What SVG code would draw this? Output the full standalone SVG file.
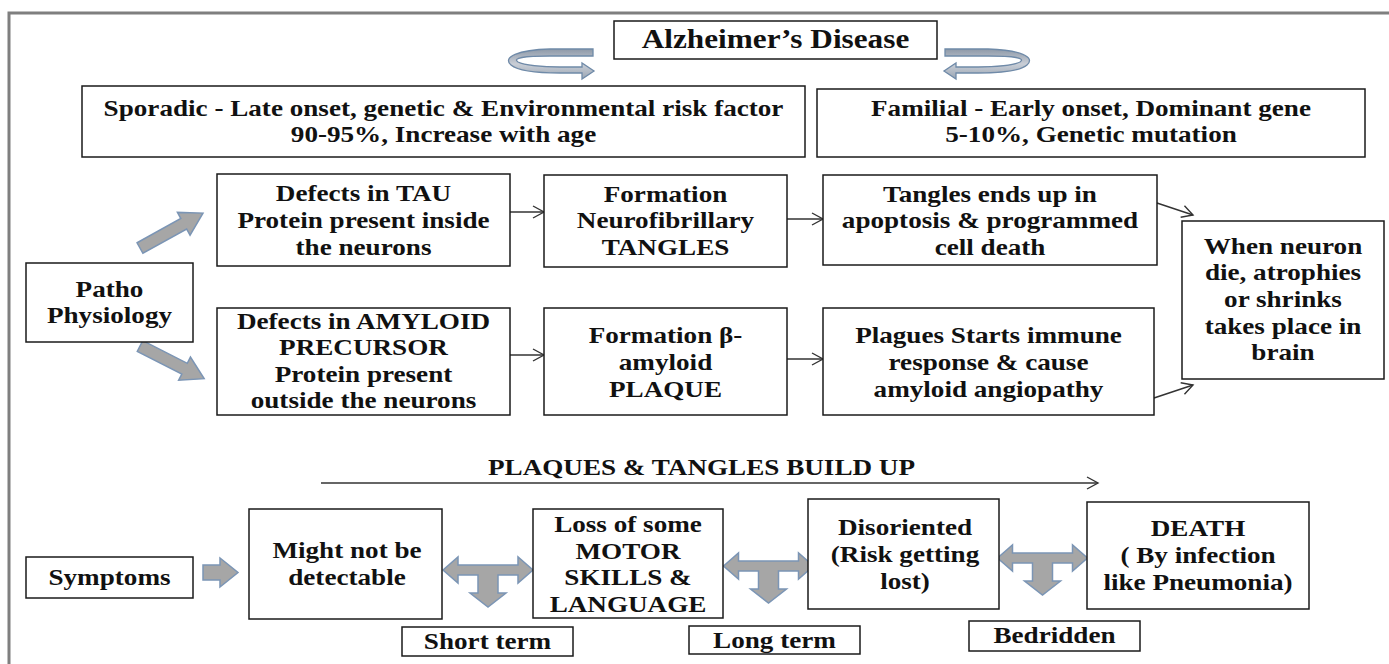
<svg xmlns="http://www.w3.org/2000/svg" xmlns:xlink="http://www.w3.org/1999/xlink" width="1389" height="664" viewBox="0 0 1389 664">
<defs>
<style>
.box{fill:#fff;stroke:#1a1a1a;stroke-width:1.5}
.t{font-family:"Liberation Serif","Times New Roman",serif;font-weight:bold;font-size:23px;fill:#111;text-anchor:middle}
.blk{fill:#a6a6a6;stroke:#7b95b5;stroke-width:1.5;stroke-linejoin:miter}
.ln{stroke:#333;stroke-width:1.4;fill:none;marker-end:url(#oa)}
.curl{fill:url(#cg);stroke:#6f8aa8;stroke-width:1.3}
</style>
<marker id="oa" markerUnits="userSpaceOnUse" markerWidth="14" markerHeight="14" refX="12" refY="7" orient="auto">
<path d="M1,1 L12,7 L1,13" fill="none" stroke="#333" stroke-width="1.4"/>
</marker>
<linearGradient id="cg" x1="0" y1="0" x2="0" y2="1">
<stop offset="0" stop-color="#8e99a8"/>
<stop offset="0.5" stop-color="#c9ced6"/>
<stop offset="1" stop-color="#9aa5b3"/>
</linearGradient>
<path id="tarrow" d="M-45,0 L-30,-13 L-30,-5 L30,-5 L30,-13 L45,0 L30,13 L30,5 L10,5 L10,23 L18,23 L0,37 L-18,23 L-10,23 L-10,5 L-30,5 L-30,13 Z"/>
<path id="darrow" d="M0,-6 L50,-6 L50,-13 L72,0 L50,13 L50,6 L0,6 Z"/>
<path id="curlp" d="M593,49 L550,49 C518,50 502,57 511,65 C518,71 538,73 560,73 L582,73 L582,79 L594,71 L582,63 L582,67 L560,67 C542,67 524,65 518,62 C512,58 524,56 550,56 L593,56 Z"/>
</defs>

<path d="M9,664 L9,13 L1389,13" fill="none" stroke="#7f7f7f" stroke-width="3"/>

<g id="connectors">
<use xlink:href="#curlp" class="curl"/>
<use xlink:href="#curlp" class="curl" transform="translate(1538 0) scale(-1 1)"/>
<use xlink:href="#darrow" class="blk" transform="translate(140 248) rotate(-29)"/>
<use xlink:href="#darrow" class="blk" transform="translate(140 346) rotate(27)"/>
<line class="ln" x1="510" y1="212" x2="544" y2="212"/>
<line class="ln" x1="510" y1="355" x2="544" y2="355"/>
<line class="ln" x1="787" y1="219" x2="823" y2="219"/>
<line class="ln" x1="787" y1="359" x2="823" y2="359"/>
<line class="ln" x1="1157" y1="203" x2="1193" y2="215"/>
<line class="ln" x1="1154" y1="398" x2="1193" y2="385"/>
<line class="ln" x1="321" y1="483" x2="1098" y2="483"/>
<path class="blk" d="M203,565 L220,565 L220,558 L238,572.5 L220,587 L220,580 L203,580 Z"/>
<use xlink:href="#tarrow" class="blk" transform="translate(488 570)"/>
<use xlink:href="#tarrow" class="blk" transform="translate(768.5 566)"/>
<use xlink:href="#tarrow" class="blk" transform="translate(1042.5 558)"/>
</g>

<g id="title">
<rect class="box" x="614" y="21" width="323" height="38"/>
<g transform="translate(775.5 0) scale(1.18 1)"><text class="t" style="font-size:26.5px" x="0" y="48">Alzheimer’s Disease</text></g>
</g>

<g id="sporadic">
<rect class="box" x="82" y="86" width="723" height="71"/>
<g transform="translate(443.5 0) scale(1.18 1)"><text class="t"><tspan x="0" y="116">Sporadic - Late onset, genetic &amp; Environmental risk factor</tspan><tspan x="0" y="142">90-95%, Increase with age</tspan></text></g>
</g>

<g id="familial">
<rect class="box" x="817" y="89" width="548" height="68"/>
<g transform="translate(1091 0) scale(1.18 1)"><text class="t"><tspan x="0" y="116">Familial - Early onset, Dominant gene</tspan><tspan x="0" y="142">5-10%, Genetic mutation</tspan></text></g>
</g>

<g id="patho">
<rect class="box" x="26" y="263" width="167" height="79"/>
<g transform="translate(109.5 0) scale(1.18 1)"><text class="t"><tspan x="0" y="297">Patho</tspan><tspan x="0" y="323">Physiology</tspan></text></g>
</g>

<g id="tau">
<rect class="box" x="217" y="174" width="293" height="92"/>
<g transform="translate(363.5 0) scale(1.18 1)"><text class="t"><tspan x="0" y="201">Defects in TAU</tspan><tspan x="0" y="228">Protein present inside</tspan><tspan x="0" y="255">the neurons</tspan></text></g>
</g>

<g id="formneuro">
<rect class="box" x="544" y="175" width="243" height="92"/>
<g transform="translate(665.5 0) scale(1.18 1)"><text class="t"><tspan x="0" y="202">Formation</tspan><tspan x="0" y="228">Neurofibrillary</tspan><tspan x="0" y="255">TANGLES</tspan></text></g>
</g>

<g id="tangles">
<rect class="box" x="823" y="175" width="334" height="90"/>
<g transform="translate(990 0) scale(1.18 1)"><text class="t"><tspan x="0" y="202">Tangles ends up in</tspan><tspan x="0" y="228">apoptosis &amp; programmed</tspan><tspan x="0" y="255">cell death</tspan></text></g>
</g>

<g id="amyloid">
<rect class="box" x="217" y="308" width="293" height="107"/>
<g transform="translate(363.5 0) scale(1.18 1)"><text class="t"><tspan x="0" y="329">Defects in AMYLOID</tspan><tspan x="0" y="355">PRECURSOR</tspan><tspan x="0" y="382">Protein present</tspan><tspan x="0" y="408">outside the neurons</tspan></text></g>
</g>

<g id="formbeta">
<rect class="box" x="544" y="308" width="243" height="107"/>
<g transform="translate(665.5 0) scale(1.18 1)"><text class="t"><tspan x="0" y="343">Formation β-</tspan><tspan x="0" y="370">amyloid</tspan><tspan x="0" y="397">PLAQUE</tspan></text></g>
</g>

<g id="plagues">
<rect class="box" x="823" y="308" width="331" height="107"/>
<g transform="translate(988.5 0) scale(1.18 1)"><text class="t"><tspan x="0" y="343">Plagues Starts immune</tspan><tspan x="0" y="370">response &amp; cause</tspan><tspan x="0" y="397">amyloid angiopathy</tspan></text></g>
</g>

<g id="whenneuron">
<rect class="box" x="1182" y="221" width="202" height="158"/>
<g transform="translate(1283 0) scale(1.18 1)"><text class="t"><tspan x="0" y="254">When neuron</tspan><tspan x="0" y="280">die, atrophies</tspan><tspan x="0" y="307">or shrinks</tspan><tspan x="0" y="334">takes place in</tspan><tspan x="0" y="360">brain</tspan></text></g>
</g>

<g id="buildup">
<g transform="translate(701.5 0) scale(1.18 1)"><text class="t" x="0" y="475">PLAQUES &amp; TANGLES BUILD UP</text></g>
</g>

<g id="symptoms">
<rect class="box" x="26" y="557" width="167" height="41"/>
<g transform="translate(109.5 0) scale(1.18 1)"><text class="t" x="0" y="585">Symptoms</text></g>
</g>

<g id="might">
<rect class="box" x="249" y="509" width="193" height="110"/>
<g transform="translate(347 0) scale(1.18 1)"><text class="t"><tspan x="0" y="558">Might not be</tspan><tspan x="0" y="585">detectable</tspan></text></g>
</g>

<g id="loss">
<rect class="box" x="533" y="509" width="190" height="109"/>
<g transform="translate(628 0) scale(1.18 1)"><text class="t"><tspan x="0" y="532">Loss of some</tspan><tspan x="0" y="559">MOTOR</tspan><tspan x="0" y="585">SKILLS &amp;</tspan><tspan x="0" y="612">LANGUAGE</tspan></text></g>
</g>

<g id="disoriented">
<rect class="box" x="808" y="499" width="191" height="110"/>
<g transform="translate(905 0) scale(1.18 1)"><text class="t"><tspan x="0" y="535">Disoriented</tspan><tspan x="0" y="562">(Risk getting</tspan><tspan x="0" y="589">lost)</tspan></text></g>
</g>

<g id="death">
<rect class="box" x="1087" y="502" width="222" height="107"/>
<g transform="translate(1198 0) scale(1.18 1)"><text class="t"><tspan x="0" y="536">DEATH</tspan><tspan x="0" y="563">( By infection</tspan><tspan x="0" y="590">like Pneumonia)</tspan></text></g>
</g>

<g id="shortterm">
<rect class="box" x="402" y="627" width="171" height="29"/>
<g transform="translate(487.5 0) scale(1.18 1)"><text class="t" x="0" y="649">Short term</text></g>
</g>

<g id="longterm">
<rect class="box" x="689" y="626" width="171" height="28"/>
<g transform="translate(774.5 0) scale(1.18 1)"><text class="t" x="0" y="648">Long term</text></g>
</g>

<g id="bedridden">
<rect class="box" x="969" y="621" width="171" height="30"/>
<g transform="translate(1054.5 0) scale(1.18 1)"><text class="t" x="0" y="643">Bedridden</text></g>
</g>
</svg>
